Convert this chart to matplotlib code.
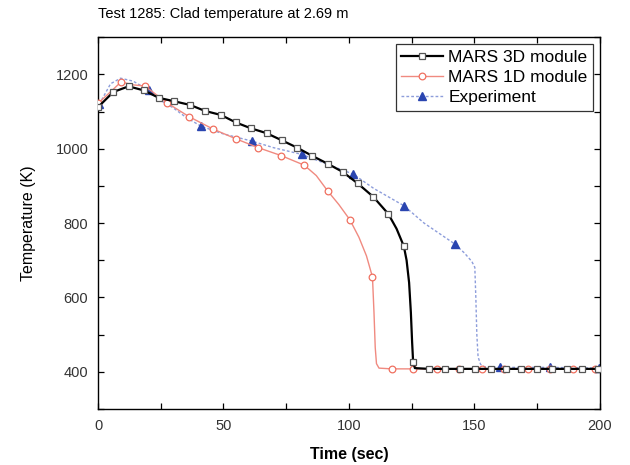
import matplotlib
matplotlib.use("Agg")

import matplotlib.pyplot as plt
from matplotlib.ticker import MultipleLocator

plt.rcParams["font.family"] = ["Liberation Sans", "DejaVu Sans"]

# -------------------------------------------------------
# data
# (the *_mark lists flag which points carry a marker)
# -------------------------------------------------------
# MARS 3D module (black, open squares)
t_3d = [0, 6.1, 12.2, 18.3, 24.3, 30.3, 36.7, 42.6, 49.0, 54.9, 61.0, 67.2,
        73.2, 79.4, 85.1, 91.5, 97.5, 103.5, 109.7, 115.7, 119.0, 121.9,
        123.0, 124.0, 124.7, 125.2, 125.6, 126.3, 132.0, 138.2, 144.3, 150.4,
        156.5, 162.6, 168.7, 174.8, 180.9, 187.0, 193.1, 199.2, 200]
T_3d = [1112, 1153, 1168, 1157, 1137, 1128, 1118, 1102, 1091, 1071, 1055, 1042,
        1023, 1003, 982, 960, 938, 907, 871, 825, 785, 738,
        700, 640, 560, 480, 427, 410, 408, 408, 408, 408,
        408, 408, 408, 408, 408, 408, 408, 408, 408]
mark_3d = [1] * 20 + [0, 1, 0, 0, 0, 0, 1, 0] + [1] * 12 + [0]

# MARS 1D module (light red, open circles)
t_1d = [0, 9.2, 14.0, 18.7, 27.4, 36.4, 45.9, 54.9, 63.9, 72.9, 82.2, 87.0,
        91.5, 96.0, 100.4, 104.0, 107.0, 109.4, 110.0, 110.5, 111.0, 112.0,
        117.0, 125.6, 135.0, 144.0, 152.9, 161.9, 171.2, 180.0, 189.4, 198.0,
        200]
T_1d = [1122, 1180, 1172, 1169, 1124, 1086, 1053, 1027, 1003, 982, 956, 928,
        887, 850, 809, 762, 712, 655, 560, 465, 422, 410,
        408, 408, 408, 408, 408, 408, 408, 408, 408, 408,
        408]
mark_1d = [1, 1, 0, 1, 1, 1, 1, 1, 1, 1, 1, 0,
           1, 0, 1, 0, 0, 1, 0, 0, 0, 0,
           1, 1, 1, 1, 1, 1, 1, 1, 1, 1, 0]

# Experiment (blue dotted line, filled triangles)
t_exp = [0.5, 5, 9, 14, 20.4, 25, 30, 35, 41.0, 50, 61.2, 70, 81.2, 90,
         101.7, 110, 121.9, 130, 142.2, 146, 149, 150.2, 150.6, 151.0, 151.5,
         152.5, 154, 160.2, 170, 180, 190, 199.5]
T_exp = [1120, 1175, 1190, 1182, 1157, 1130, 1110, 1085, 1061, 1040, 1021,
         1003, 985, 962, 932, 893, 847, 800, 744, 720, 697, 681, 600, 500,
         440, 420, 414, 412, 412, 412, 411, 410]
mark_exp = [1, 0, 0, 0, 1, 0, 0, 0, 1, 0, 1, 0, 1, 0, 1, 0, 1, 0, 1,
            0, 0, 0, 0, 0, 0, 0, 0, 1, 0, 1, 0, 1]

fig = plt.figure(figsize=(6.3, 4.65), dpi=100)
ax = fig.add_axes([0.1556, 0.1204, 0.7964, 0.7994])

ax.plot(t_exp, T_exp, color="#8d9ddb", lw=1.0, ls=(0, (2, 1.5)),
        marker="^", markevery=[bool(m) for m in mark_exp], ms=5.8,
        mfc="#2a45b0", mec="#2a45b0", label="Experiment", zorder=2)
ax.plot(t_1d, T_1d, color="#f08a80", lw=1.0,
        marker="o", markevery=[bool(m) for m in mark_1d], ms=4.8,
        mfc="white", mec="#f07060", mew=0.9, label="MARS 1D module", zorder=3)
ax.plot(t_3d, T_3d, color="black", lw=1.6,
        marker="s", markevery=[bool(m) for m in mark_3d], ms=4.3,
        mfc="white", mec="#555555", mew=0.9, label="MARS 3D module", zorder=4)

ax.set_xlim(0, 200)
ax.set_ylim(300, 1300)
ax.xaxis.set_major_locator(MultipleLocator(50))
ax.xaxis.set_minor_locator(MultipleLocator(25))
ax.yaxis.set_major_locator(MultipleLocator(200))
ax.yaxis.set_minor_locator(MultipleLocator(100))
ax.set_yticks([400, 600, 800, 1000, 1200])
ax.tick_params(which="both", direction="in", top=True, right=True,
               length=4, width=0.9, labelsize=10.5, colors="black",
               labelcolor="#333333", pad=7)
for s in ax.spines.values():
    s.set_linewidth(1.0)

ax.set_xlabel("Time (sec)", fontsize=11.5, fontweight="bold", labelpad=10)
ax.set_ylabel("Temperature (K)", fontsize=11.5, labelpad=14)
ax.set_title("Test 1285: Clad temperature at 2.69 m", loc="left",
             fontsize=10.5, pad=14)

handles, labels = ax.get_legend_handles_labels()
order = [2, 1, 0]
leg = ax.legend([handles[i] for i in order], [labels[i] for i in order],
                loc="upper right", fontsize=12.5, frameon=True, fancybox=False,
                edgecolor="black", handlelength=2.4, handletextpad=0.3,
                borderpad=0.3, labelspacing=0.3, borderaxespad=0.4)
leg.get_frame().set_linewidth(0.9)

fig.savefig("out.png", dpi=100)
